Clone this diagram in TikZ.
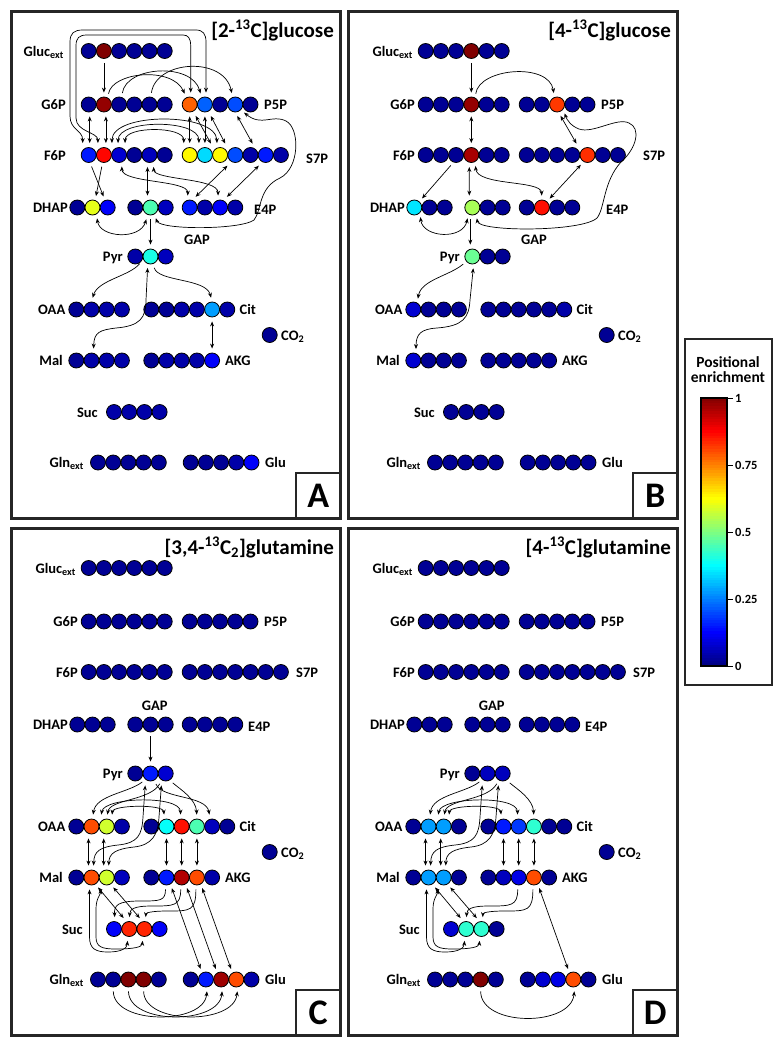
\documentclass[tikz,border=0pt]{standalone}
\usepackage{fontspec}
\setmainfont{Carlito}
\usepackage{xcolor}
\usepackage{tikz}
\usetikzlibrary{arrows.meta}

% jet colour map: value in [0,1] -> rgb
\newcommand{\jetcolor}[2]{%
  \pgfmathsetmacro{\jr}{max(0,min(1,1.5-abs(4*#2-3)))}%
  \pgfmathsetmacro{\jg}{max(0,min(1,1.5-abs(4*#2-2)))}%
  \pgfmathsetmacro{\jb}{max(0,min(1,1.5-abs(4*#2-1)))}%
  \definecolor{#1}{rgb}{\jr,\jg,\jb}}
% one molecule: name, x of first carbon, y, enrichment of each carbon
\newcommand{\mol}[4]{%
  \foreach \v [count=\i] in {#4} {\jetcolor{molfill}{\v}
    \node[atom,fill=molfill] (#1-\i) at ({#2+15.2*(\i-1)},#3) {};}}
% labels, frame and letter of one panel
\newcommand{\panellabels}[9]{%
  \node[lbl,anchor=base east] (#1-l-gluc) at (#2-2,56) {Gluc\textsubscript{ext}};
  \node[lbl,anchor=base east] (#1-l-g6p) at (#2,109.5) {G6P};
  \node[lbl,anchor=base west] (#1-l-p5p) at (264,109.5) {P5P};
  \node[lbl,anchor=base east] (#1-l-f6p) at (#2,160) {F6P};
  \node[lbl,anchor=base west] (#1-l-s7p) at (#3,#4) {S7P};
  \node[lbl,anchor=base east] (#1-l-dhap) at (68,212.5) {DHAP};
  \node[lbl,anchor=base west] (#1-l-e4p) at (#5,214) {E4P};
  \node[lbl] (#1-l-gap) at (#6) {GAP};
  \node[lbl,anchor=base east] (#1-l-pyr) at (123,261.5) {Pyr};
  \node[lbl,anchor=base east] (#1-l-oaa) at (65.5,314.5) {OAA};
  \node[lbl,anchor=base west] (#1-l-cit) at (239.5,314.5) {Cit};
  \node[lbl,anchor=base west] (#1-l-co2) at (281,340) {CO\textsubscript{2}};
  \node[lbl,anchor=base east] (#1-l-mal) at (63,365.5) {Mal};
  \node[lbl,anchor=base west] (#1-l-akg) at (225,365.5) {AKG};
  \node[lbl,anchor=base east] (#1-l-suc) at (#9,417) {Suc};
  \node[lbl,anchor=base east] (#1-l-gln) at (84,467.5) {Gln\textsubscript{ext}};
  \node[lbl,anchor=base west] (#1-l-glu) at (265,467.5) {Glu};
  \node[ttl,anchor=base east] (#1-title) at (334,37) {#7};
  \draw[frame] (11.5,11.5) rectangle (340.5,518.5);
  \draw[lettbox] (296,473) rectangle (340.5,518.5);
  \node[letter] (#1-letter) at (318.25,495.75) {#8};}

\begin{document}
\begin{tikzpicture}[x=1pt,y=-1pt,
atom/.style={circle,draw=black,line width=0.8pt,minimum size=15pt,inner sep=0pt},
lbl/.style={font=\fontsize{14.5}{16}\selectfont\bfseries,inner sep=0pt},
ttl/.style={font=\fontsize{21}{24}\selectfont\bfseries,inner sep=0pt},
letter/.style={font=\fontsize{36}{36}\selectfont\bfseries,inner sep=0pt},
tick/.style={font=\fontsize{12.5}{14}\selectfont\bfseries,inner sep=0pt},
frame/.style={line width=3pt,draw=black!85},
lettbox/.style={line width=2.5pt,draw=black!85},
arr/.style={-{Stealth[length=5pt,width=4pt]},line width=0.7pt,shorten >=4pt,shorten <=4pt},
dbl/.style={{Stealth[length=5pt,width=4pt]}-{Stealth[length=5pt,width=4pt]},line width=0.7pt,shorten >=4pt,shorten <=4pt}]
\useasboundingbox (0,0) rectangle (783,1050);

% (A) [2-13C]glucose
\begin{scope}
\panellabels{A}{66}{306}{163}{254}{197,240}{[2-\textsuperscript{13}C]glucose}{A}{98}
\mol{A-gluc}{88.7}{51}{0.02,1,0.02,0.02,0.02,0.02}
\mol{A-g6p}{88.7}{104.5}{0.02,0.98,0.02,0.02,0.02,0.02}
\mol{A-p5p}{189.7}{104.5}{0.78,0.22,0.02,0.2,0.02}
\mol{A-f6p}{88.7}{155}{0.15,0.87,0.08,0.02,0.06,0.02}
\mol{A-s7p}{189.7}{155}{0.63,0.34,0.63,0.2,0.04,0.15,0.04}
\mol{A-dhap}{77.3}{207.5}{0.02,0.6,0.12}
\mol{A-gap}{135.3}{207.5}{0.02,0.45,0.06}
\mol{A-e4p}{189.7}{207.5}{0.15,0.04,0.12,0.04}
\mol{A-pyr}{135.3}{256.5}{0.04,0.4,0.06}
\mol{A-oaa}{76.3}{309.5}{0.02,0.04,0.04,0.04}
\mol{A-cit}{151.3}{309.5}{0.02,0.02,0.04,0.04,0.28,0.04}
\mol{A-co2}{269.7}{335}{0.02}
\mol{A-mal}{76.3}{360.5}{0.02,0.04,0.04,0.04}
\mol{A-akg}{151.3}{360.5}{0.02,0.04,0.04,0.04,0.12}
\mol{A-suc}{114}{412}{0.04,0.04,0.04,0.04}
\mol{A-gln}{98}{462.5}{0.02,0.02,0.02,0.02,0.02}
\mol{A-glu}{190.7}{462.5}{0.02,0.02,0.02,0.04,0.12}
\draw[arr] (A-gluc-2.south) -- (A-g6p-2.north);
\draw[dbl] ([xshift=-6]A-f6p-1.north) .. controls (82.7,130) and (70,130) .. (70,116) -- (70,42) .. controls (70,33) and (74,30) .. (83,30) -- (196,30) .. controls (203,30) and (206,34) .. (206,42) -- ([xshift=1.1]A-p5p-2.north);
\draw[dbl] ([xshift=-6]A-f6p-2.north) .. controls (97.9,132) and (76,132) .. (76,118) -- (76,46) .. controls (76,38) and (79,35) .. (87,35) -- (183,35) .. controls (188,35) and (190.7,38) .. (190.7,46) -- ([xshift=1]A-p5p-1.north);
\draw[dbl] ([xshift=1]A-g6p-1.south) -- ([xshift=1]A-f6p-1.north);
\draw[dbl] ([xshift=2]A-g6p-2.south) -- ([xshift=2]A-f6p-2.north);
\draw[arr] (A-g6p-2.60) .. controls (112,72) and (172,66) .. (A-p5p-1.115);
\draw[arr] (A-g6p-3.70) .. controls (126,66) and (192,62) .. (A-p5p-2.115);
\draw[arr] (A-g6p-5.80) .. controls (156,60) and (224,56) .. (A-p5p-4.110);
\draw[dbl] (A-p5p-1.south) -- (A-s7p-1.north);
\draw[dbl] ([xshift=4]A-p5p-1.south) -- ([xshift=8]A-s7p-2.north);
\draw[dbl] (A-p5p-2.south) -- (A-s7p-2.north);
\draw[dbl] ([xshift=4]A-p5p-2.south) -- ([xshift=7]A-s7p-3.north);
\draw[dbl] (A-p5p-4.south) -- ([xshift=4]A-s7p-5.north);
\draw[dbl] ([xshift=8]A-f6p-2.north) .. controls (112,112) and (216,112) .. ([xshift=-3]A-s7p-3.north);
\draw[dbl] ([xshift=-1]A-f6p-3.north) .. controls (118,119) and (199,119) .. ([xshift=-6]A-s7p-2.north);
\draw[dbl] ([xshift=6]A-f6p-3.north) .. controls (125,126) and (184,126) .. ([xshift=-6]A-s7p-1.north);
\draw[arr] (A-f6p-1.-80) -- (A-dhap-3.110);
\draw[arr] (A-f6p-2.-100) -- (A-dhap-2.70);
\draw[dbl] ([xshift=-2]A-f6p-5.south) -- ([xshift=-3]A-gap-2.north);
\draw[dbl] (A-f6p-3.-70) .. controls (122,183) and (188,180) .. ([xshift=-2]A-e4p-1.north);
\draw[dbl] ([xshift=4]A-f6p-5.south) .. controls (154,180) and (218,178) .. ([xshift=-2]A-e4p-3.north);
\draw[dbl] ([xshift=3]A-e4p-1.north) -- ([xshift=-5]A-s7p-4.south);
\draw[dbl] ([xshift=4]A-e4p-3.north) -- ([xshift=-4]A-s7p-6.south);
\draw[dbl] (A-gap-2.-60) .. controls (160,230) and (240,230) .. (254,220) .. controls (262,210) and (258,188) .. (280,178) .. controls (300,168) and (300,128) .. (286,121) .. controls (272,114) and (262,127) .. (A-p5p-4.-45);
\draw[dbl] (A-dhap-2.-60) .. controls (100,238) and (140,240) .. ([xshift=-3]A-gap-2.south);
\draw[arr] (A-gap-2.south) -- (A-pyr-2.north);
\draw[arr] (A-pyr-1.-30) .. controls (130,276) and (98,280) .. (A-oaa-2.north);
\draw[arr] (A-pyr-2.-70) .. controls (158,282) and (206,278) .. (A-cit-5.north);
\draw[dbl] ([xshift=2]A-mal-2.north) .. controls (94,332) and (100,330) .. (116,328) .. controls (140,326) and (146,318) .. (146,300) -- (A-pyr-2.-110);
\draw[dbl] (A-cit-5.south) -- (A-akg-5.north);
\end{scope}

% (B) [4-13C]glucose
\begin{scope}[shift={(337,0)}]
\panellabels{B}{78}{306}{160}{269}{197,240}{[4-\textsuperscript{13}C]glucose}{B}{98}
\mol{B-gluc}{88.7}{51}{0.02,0.02,0.02,1,0.02,0.02}
\mol{B-g6p}{88.7}{104.5}{0.02,0.02,0.02,0.98,0.02,0.02}
\mol{B-p5p}{189.7}{104.5}{0.02,0.02,0.82,0.02,0.02}
\mol{B-f6p}{88.7}{155}{0.02,0.02,0.02,0.96,0.02,0.02}
\mol{B-s7p}{189.7}{155}{0.02,0.02,0.02,0.02,0.83,0.02,0.02}
\mol{B-dhap}{77.3}{207.5}{0.35,0.02,0.02}
\mol{B-gap}{135.3}{207.5}{0.54,0.02,0.02}
\mol{B-e4p}{189.7}{207.5}{0.02,0.86,0.02,0.02}
\mol{B-pyr}{135.3}{256.5}{0.48,0.02,0.02}
\mol{B-oaa}{76.3}{309.5}{0.08,0.02,0.02,0.02}
\mol{B-cit}{151.3}{309.5}{0.02,0.02,0.02,0.02,0.02,0.04}
\mol{B-co2}{269.7}{335}{0.02}
\mol{B-mal}{76.3}{360.5}{0.08,0.02,0.02,0.02}
\mol{B-akg}{151.3}{360.5}{0.02,0.02,0.02,0.02,0.02}
\mol{B-suc}{114}{412}{0.02,0.02,0.02,0.02}
\mol{B-gln}{98}{462.5}{0.02,0.02,0.02,0.02,0.02}
\mol{B-glu}{190.7}{462.5}{0.02,0.02,0.02,0.02,0.02}
\draw[arr] (B-gluc-4.south) -- (B-g6p-4.north);
\draw[arr] (B-g6p-4.60) .. controls (142,68) and (212,62) .. (B-p5p-3.110);
\draw[dbl] (B-g6p-4.south) -- (B-f6p-4.north);
\draw[dbl] (B-p5p-3.-80) -- ([xshift=-9]B-s7p-5.north);
\draw[dbl] (B-gap-1.-60) .. controls (142,232) and (245,232) .. (260,218) .. controls (268,208) and (266,182) .. (284,162) .. controls (300,148) and (304,128) .. (292,123) .. controls (280,117) and (256,134) .. (242,129) .. controls (234,126) and (230,120) .. (B-p5p-3.-40);
\draw[arr] (B-f6p-3.-110) -- (B-dhap-1.50);
\draw[dbl] ([xshift=-2]B-f6p-4.south) -- ([xshift=-3]B-gap-1.north);
\draw[dbl] (B-f6p-4.-60) .. controls (140,186) and (204,180) .. (B-e4p-2.north);
\draw[dbl] (B-e4p-2.50) -- (B-s7p-5.-120);
\draw[dbl] (B-dhap-1.-45) .. controls (86,238) and (126,240) .. (B-gap-1.-120);
\draw[arr] ([xshift=-2]B-gap-1.south) -- ([xshift=-2]B-pyr-1.north);
\draw[arr] (B-pyr-1.-140) .. controls (112,276) and (84,280) .. (B-oaa-1.60);
\draw[dbl] (B-mal-1.70) .. controls (79,334) and (84,329) .. (100,328) .. controls (126,326) and (132,318) .. (133,300) -- (B-pyr-1.-80);
\end{scope}

% (C) [3,4-13C2]glutamine
\begin{scope}[shift={(0,517)}]
\panellabels{C}{78}{296}{160}{248}{154.7,189}{[3,4-\textsuperscript{13}C\textsubscript{2}]glutamine}{C}{83}
\mol{C-gluc}{88.7}{51}{0.02,0.02,0.02,0.02,0.02,0.02}
\mol{C-g6p}{88.7}{104.5}{0.02,0.02,0.02,0.02,0.02,0.02}
\mol{C-p5p}{189.7}{104.5}{0.02,0.02,0.02,0.02,0.02}
\mol{C-f6p}{88.7}{155}{0.02,0.02,0.02,0.02,0.02,0.02}
\mol{C-s7p}{189.7}{155}{0.02,0.02,0.02,0.02,0.02,0.02,0.02}
\mol{C-dhap}{77.3}{207.5}{0.02,0.02,0.02}
\mol{C-gap}{135.3}{207.5}{0.02,0.02,0.02}
\mol{C-e4p}{189.7}{207.5}{0.02,0.02,0.02,0.02}
\mol{C-pyr}{135.3}{256.5}{0.02,0.15,0.08}
\mol{C-oaa}{76.3}{309.5}{0.02,0.8,0.58,0.04}
\mol{C-cit}{151.3}{309.5}{0.02,0.38,0.86,0.45,0.06,0.02}
\mol{C-co2}{269.7}{335}{0.02}
\mol{C-mal}{76.3}{360.5}{0.02,0.8,0.58,0.06}
\mol{C-akg}{151.3}{360.5}{0.02,0.15,0.95,0.8,0.04}
\mol{C-suc}{114}{412}{0.12,0.84,0.84,0.12}
\mol{C-gln}{98}{462.5}{0.02,0.02,1,1,0.02}
\mol{C-glu}{190.7}{462.5}{0.02,0.15,0.97,0.8,0.04}
\draw[arr] (C-gap-2.south) -- (C-pyr-2.north);
\draw[arr] (C-pyr-2.-130) .. controls (128,276) and (96,278) .. ([xshift=1]C-oaa-2.north);
\draw[arr] (C-pyr-3.-120) .. controls (150,284) and (110,282) .. (C-oaa-3.north);
\draw[dbl] ([xshift=-6]C-oaa-3.north) .. controls (104,280) and (180,278) .. ([xshift=-1]C-cit-3.north);
\draw[dbl] ([xshift=5]C-oaa-3.north) .. controls (113,288) and (163,287) .. ([xshift=-2]C-cit-2.north);
\draw[arr] (C-pyr-3.-60) .. controls (180,272) and (196,282) .. (C-cit-4.north);
\draw[arr] (C-pyr-2.-60) .. controls (162,282) and (206,278) .. ([xshift=-2]C-cit-5.north);
\draw[dbl] ([xshift=2]C-mal-2.north) .. controls (94,334) and (100,330) .. (118,328) .. controls (138,326) and (142,318) .. (143,300) -- ([xshift=-5]C-pyr-2.south);
\draw[dbl] ([xshift=2]C-mal-3.north) .. controls (109,336) and (116,332) .. (134,330) .. controls (152,328) and (158,318) .. (159,300) -- ([xshift=-4]C-pyr-3.south);
\foreach \k in {2,3} \draw[dbl] ([xshift=-3]C-oaa-\k.south) -- ([xshift=-3]C-mal-\k.north);
\foreach \k in {2,3,4} \draw[dbl] (C-cit-\k.south) -- (C-akg-\k.north);
\draw[dbl] (C-mal-2.-60) -- ([xshift=-3]C-suc-2.north);
\draw[dbl] (C-mal-3.-60) -- ([xshift=-2]C-suc-3.north);
\draw[dbl] ([xshift=-2]C-mal-2.south) -- (89.5,420) .. controls (89.5,432) and (96,435) .. (108,435) .. controls (122,435) and (127,431) .. (C-suc-2.-100);
\draw[dbl] ([xshift=-4]C-mal-3.south) .. controls (100,378) and (96,382) .. (96,392) -- (96,420) .. controls (96,430) and (102,432) .. (116,432) .. controls (134,432) and (142,430) .. (C-suc-3.-100);
\draw[arr] ([xshift=-1]C-akg-2.south) .. controls (165.5,384) and (160,384) .. (140,384) .. controls (118,384) and (114,388) .. ([xshift=1]C-suc-1.north);
\draw[arr] ([xshift=-1]C-akg-3.south) .. controls (180.7,389) and (174,389) .. (152,389) .. controls (134,389) and (130,392) .. (C-suc-2.north);
\draw[arr] ([xshift=-1]C-akg-4.south) .. controls (195.9,394) and (190,394) .. (168,394) .. controls (150,394) and (146,396) .. ([xshift=1]C-suc-3.north);
\foreach \k in {2,3,4} \draw[dbl] (C-akg-\k.-60) -- (C-glu-\k.120);
\draw[arr] (C-gln-2.south) .. controls (114,508) and (204,508) .. (C-glu-2.-80);
\draw[arr] (C-gln-3.south) .. controls (129,508) and (219,508) .. (C-glu-3.-80);
\draw[arr] (C-gln-4.south) .. controls (144,508) and (234,508) .. (C-glu-4.-80);
\end{scope}

% (D) [4-13C]glutamine
\begin{scope}[shift={(337,517)}]
\panellabels{D}{78}{296}{160}{248}{154.7,189}{[4-\textsuperscript{13}C]glutamine}{D}{83}
\mol{D-gluc}{88.7}{51}{0.02,0.02,0.02,0.02,0.02,0.02}
\mol{D-g6p}{88.7}{104.5}{0.02,0.02,0.02,0.02,0.02,0.02}
\mol{D-p5p}{189.7}{104.5}{0.02,0.02,0.02,0.02,0.02}
\mol{D-f6p}{88.7}{155}{0.02,0.02,0.02,0.02,0.02,0.02}
\mol{D-s7p}{189.7}{155}{0.02,0.02,0.02,0.02,0.02,0.02,0.02}
\mol{D-dhap}{77.3}{207.5}{0.02,0.02,0.02}
\mol{D-gap}{135.3}{207.5}{0.02,0.02,0.02}
\mol{D-e4p}{189.7}{207.5}{0.02,0.02,0.02,0.02}
\mol{D-pyr}{135.3}{256.5}{0.02,0.06,0.06}
\mol{D-oaa}{76.3}{309.5}{0.02,0.28,0.28,0.02}
\mol{D-cit}{151.3}{309.5}{0.02,0.15,0.18,0.42,0.02,0.02}
\mol{D-co2}{269.7}{335}{0.02}
\mol{D-mal}{76.3}{360.5}{0.02,0.28,0.28,0.02}
\mol{D-akg}{151.3}{360.5}{0.02,0.06,0.1,0.8,0.02}
\mol{D-suc}{114}{412}{0.08,0.42,0.42,0.02}
\mol{D-gln}{98}{462.5}{0.02,0.02,0.02,1,0.02}
\mol{D-glu}{190.7}{462.5}{0.02,0.08,0.1,0.8,0.02}
\draw[arr] (D-pyr-2.-130) .. controls (128,276) and (96,278) .. ([xshift=1]D-oaa-2.north);
\draw[arr] (D-pyr-3.-120) .. controls (150,284) and (110,282) .. (D-oaa-3.north);
\draw[dbl] ([xshift=-6]D-oaa-3.north) .. controls (104,280) and (180,278) .. ([xshift=-1]D-cit-3.north);
\draw[dbl] ([xshift=5]D-oaa-3.north) .. controls (113,288) and (163,287) .. ([xshift=-2]D-cit-2.north);
\draw[arr] (D-pyr-3.-60) .. controls (180,272) and (196,282) .. (D-cit-4.north);
\draw[dbl] ([xshift=2]D-mal-2.north) .. controls (94,334) and (100,330) .. (118,328) .. controls (138,326) and (142,318) .. (143,300) -- ([xshift=-5]D-pyr-2.south);
\draw[dbl] ([xshift=2]D-mal-3.north) .. controls (109,336) and (116,332) .. (134,330) .. controls (152,328) and (158,318) .. (159,300) -- ([xshift=-4]D-pyr-3.south);
\foreach \k in {2,3} \draw[dbl] ([xshift=-3]D-oaa-\k.south) -- ([xshift=-3]D-mal-\k.north);
\foreach \k in {2,3,4} \draw[dbl] (D-cit-\k.south) -- (D-akg-\k.north);
\draw[dbl] (D-mal-2.-60) -- ([xshift=-3]D-suc-2.north);
\draw[dbl] (D-mal-3.-60) -- ([xshift=-2]D-suc-3.north);
\draw[dbl] ([xshift=-2]D-mal-2.south) -- (89.5,420) .. controls (89.5,432) and (96,435) .. (108,435) .. controls (122,435) and (127,431) .. (D-suc-2.-100);
\draw[dbl] ([xshift=-4]D-mal-3.south) .. controls (100,378) and (96,382) .. (96,392) -- (96,420) .. controls (96,430) and (102,432) .. (116,432) .. controls (134,432) and (142,430) .. (D-suc-3.-100);
\draw[arr] ([xshift=-1]D-akg-3.south) .. controls (180.7,389) and (174,389) .. (152,389) .. controls (134,389) and (130,392) .. (D-suc-2.north);
\draw[arr] ([xshift=-1]D-akg-4.south) .. controls (195.9,394) and (190,394) .. (168,394) .. controls (150,394) and (146,396) .. ([xshift=1]D-suc-3.north);
\draw[dbl] (D-akg-4.-60) -- (D-glu-4.120);
\draw[arr] (D-gln-4.south) .. controls (144,510) and (234,510) .. (D-glu-4.-80);
\end{scope}

% colour bar
\draw[line width=2pt,draw=black!85] (685,339) rectangle (771.5,685);
\node[tick,align=center,font=\fontsize{15.5}{15}\selectfont\bfseries] (cbar-title) at (728,370) {Positional\\enrichment};
\foreach \k in {0,...,99} {
  \pgfmathsetmacro{\cv}{(\k+0.5)/100}
  \jetcolor{barfill}{\cv}
  \fill[barfill] (701,{666-2.68*(\k+1)-0.3}) rectangle (727,{666-2.68*\k});
}
\draw[line width=2.5pt] (701,398) rectangle (727,666);
\foreach \t/\tl [count=\n] in {0/0,0.25/0.25,0.5/0.5,0.75/0.75,1/1} {
  \draw[line width=1pt] (727,{666-268*\t}) -- (733,{666-268*\t});
  \node[tick,anchor=west] (tick-\n) at (735,{666-268*\t}) {\tl};
}
\end{tikzpicture}
\end{document}
